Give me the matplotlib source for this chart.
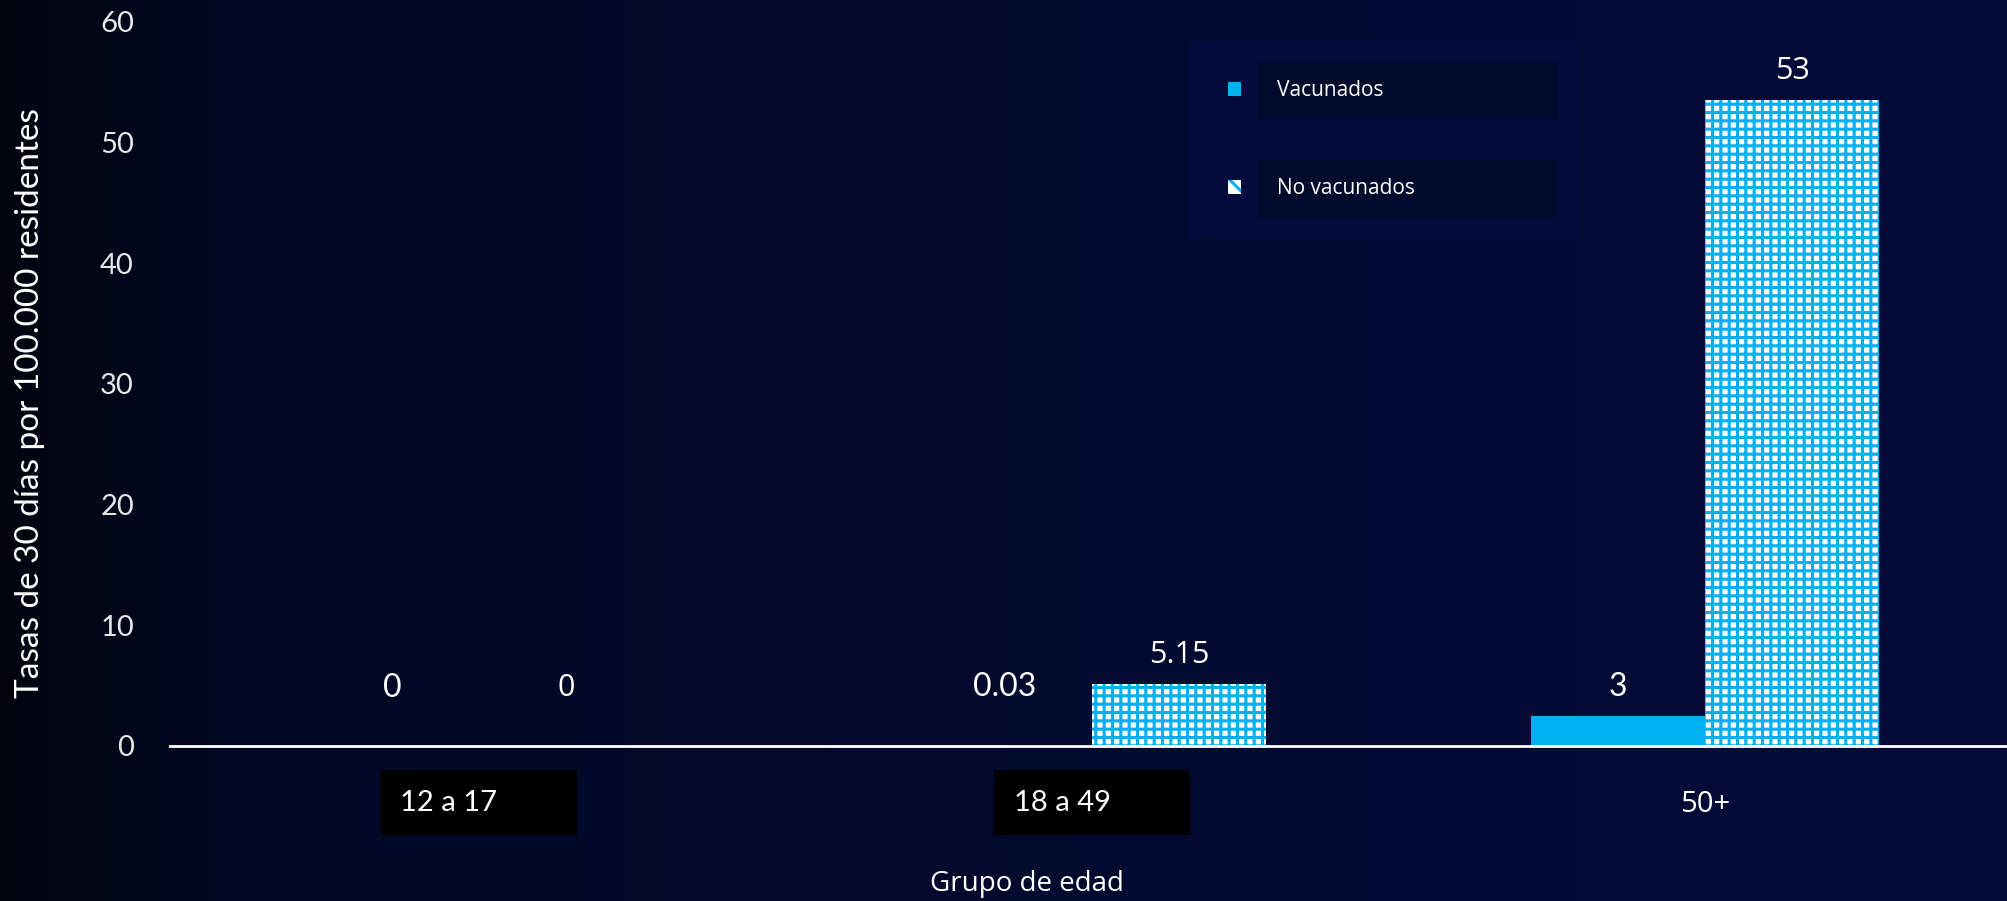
import numpy as np
import matplotlib.pyplot as plt
from matplotlib.patches import Patch
from matplotlib.colors import LinearSegmentedColormap

grupos = ['12 a 17', '18 a 49', '50+']
vacunados = [0, 0.03, 2.5]
no_vacunados = [0, 5.15, 53.5]
etq_vac = ['0', '0.03', '3']
etq_novac = ['0', '5.15', '53']

cian = '#00b0f0'
plt.rcParams['hatch.linewidth'] = 2.2

fig = plt.figure(figsize=(20.08, 9.01), dpi=100)

# fondo degradado
bg = fig.add_axes([0, 0, 1, 1], zorder=-10)
cmap = LinearSegmentedColormap.from_list('bg', [(0, '#02030f'), (0.12, '#020825'), (0.5, '#020a2e'), (1, '#050c3c')])
bg.imshow(np.linspace(0, 1, 256).reshape(1, -1), aspect='auto', cmap=cmap, extent=[0, 1, 0, 1])
bg.axis('off')

ax = fig.add_axes([170/2008, 1 - 746/901, 1 - 170/2008, (746 - 22)/901])
ax.patch.set_alpha(0)

x = np.arange(len(grupos))
w = 0.284
b1 = ax.bar(x - w/2, vacunados, w, color=cian, linewidth=0)
b2 = ax.bar(x + w/2, no_vacunados, w, color='white', edgecolor=cian, linewidth=0, hatch='++')

for i in range(len(grupos)):
    off = 42 if vacunados[i] < 0.5 else 21
    ax.annotate(etq_vac[i], (x[i] - w/2, vacunados[i]), xytext=(0, off), textcoords='offset points',
                ha='center', va='center', color='white', fontsize=23, family=['Lato', 'DejaVu Sans'])
    off = 42 if no_vacunados[i] < 0.5 else 21
    ax.annotate(etq_novac[i], (x[i] + w/2, no_vacunados[i]), xytext=(0, off), textcoords='offset points',
                ha='center', va='center', color='white', fontsize=22, family=['Open Sans', 'DejaVu Sans'])

ax.set_xlim(-0.504, 2.494)
ax.set_ylim(0, 60)
ax.set_yticks(range(0, 61, 10))
ax.tick_params(axis='y', length=0, pad=26, labelcolor='#e8e8e8', labelsize=21)
for t in ax.get_yticklabels():
    t.set_family(['Lato', 'DejaVu Sans'])

ax.set_xticks(x)
ax.set_xticklabels([g + ' ' * 8 if g != '50+' else g for g in grupos])
ax.tick_params(axis='x', length=0, pad=31.5, labelcolor='white', labelsize=21)
for t, g in zip(ax.get_xticklabels(), grupos):
    t.set_family(['Lato', 'DejaVu Sans'])
    if g != '50+':
        t.set_bbox(dict(boxstyle='square,pad=0.67', facecolor='black', edgecolor='none'))
    else:
        t.set_family(['Open Sans', 'DejaVu Sans'])

for s in ['top', 'right', 'left']:
    ax.spines[s].set_visible(False)
ax.spines['bottom'].set_color('white')
ax.spines['bottom'].set_linewidth(2)

ax.set_ylabel('Tasas de 30 días por 100.000 residentes', color='white', fontsize=24,
              family=['Lato', 'DejaVu Sans'])
ax.yaxis.set_label_coords(-0.068, 0.474)
ax.set_xlabel('Grupo de edad', color='white', fontsize=20, family=['Open Sans', 'DejaVu Sans'])
ax.xaxis.label.set_va('center')
ax.xaxis.set_label_coords((1027 - 170)/1838, -0.19)

handles = [Patch(facecolor=cian, edgecolor=cian, linewidth=0),
           Patch(facecolor='white', edgecolor=cian, linewidth=0, hatch='\\\\')]
leg = ax.legend(handles, ['Vacunados' + ' ' * 29, 'No vacunados' + ' ' * 23],
                loc='upper left', bbox_to_anchor=(0.554, 0.974), frameon=True,
                prop={'family': ['Open Sans', 'DejaVu Sans'], 'size': 15},
                handlelength=0.65, handleheight=0.65, handletextpad=1.7,
                labelspacing=3.7, borderpad=1.9, borderaxespad=0, fancybox=False)
leg.get_frame().set_facecolor('#050b3c')
leg.get_frame().set_edgecolor('none')
leg.get_frame().set_alpha(1)
for t in leg.get_texts():
    t.set_color('white')
    t.set_bbox(dict(boxstyle='square,pad=0.9', facecolor='#020b2b', edgecolor='none'))

fig.savefig('out.png', dpi=100)
